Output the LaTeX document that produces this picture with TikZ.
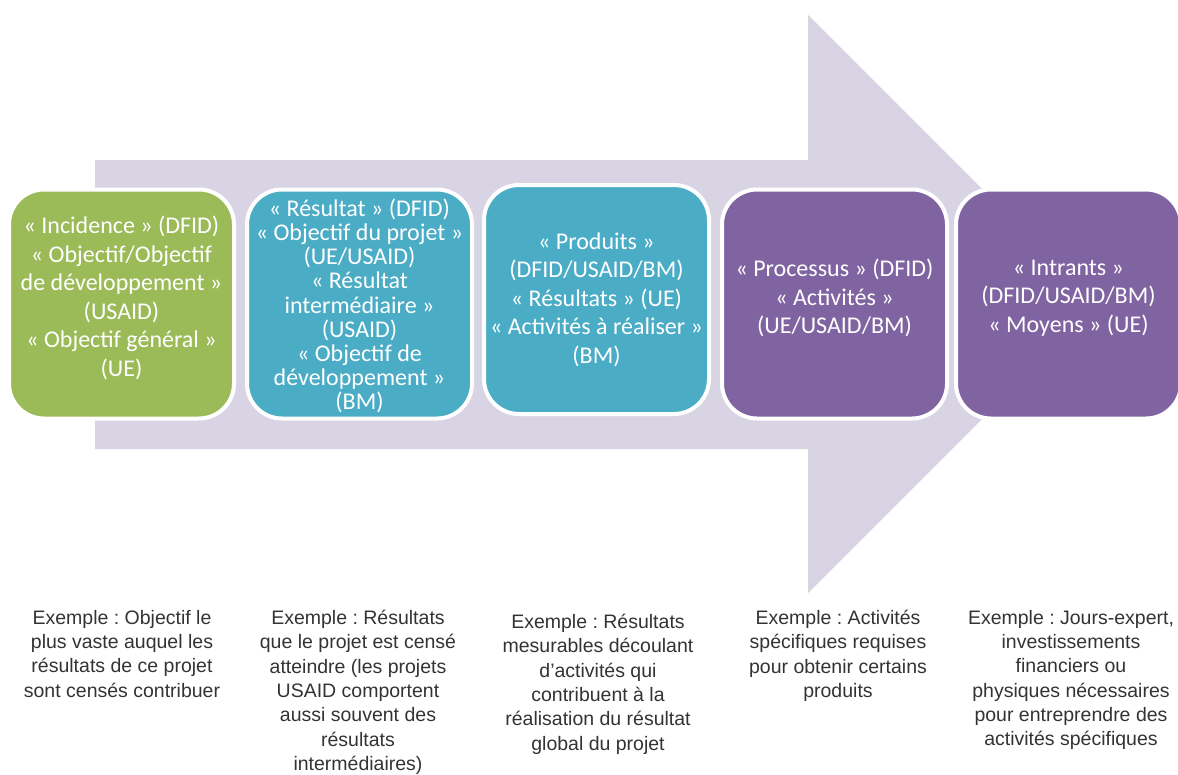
\documentclass[tikz,border=0pt]{standalone}
\usepackage{fontspec}
\setmainfont{Carlito}
\newfontfamily\notefont{Liberation Sans}
\usepackage{tikz}
\usetikzlibrary{positioning}
\frenchspacing

\definecolor{arrowlilac}{HTML}{D9D4E3}
\definecolor{leafgreen}{HTML}{9BBB59}
\definecolor{seablue}{HTML}{4BACC6}
\definecolor{plum}{HTML}{8064A2}
\definecolor{notegray}{HTML}{333333}

\begin{document}
\begin{tikzpicture}[x=1pt,y=-1pt,
  stage/.style={draw=white,line width=4pt,rounded corners=35pt,minimum width=225pt,minimum height=229pt,inner sep=0pt},
  stagetext/.style={text=white,align=center,inner sep=0pt,font=\fontsize{24}{28.5}\selectfont},
  note/.style={anchor=north,align=center,inner sep=0pt,text=notegray,font=\notefont\fontsize{19.5}{24.3}\selectfont}]
\useasboundingbox (0,0) rectangle (1178,774);

% big arrow behind the stages
\fill[arrowlilac] (95,160) -- (808,160) -- (808,15) -- (1097,304) -- (808,593) -- (808,449) -- (95,449) -- cycle;

% the five stages
\node[stage,fill=leafgreen] (impact) at (121.5,304) {};
\node[stage,fill=seablue] (outcome) at (359.5,304) {};
\node[stage,fill=seablue] (output) at (596.5,299.5) {};
\node[stage,fill=plum] (activity) at (834.5,304) {};
\node[stage,fill=plum] (input) at (1068.5,304) {};

\node[stagetext] (impacttxt) at ([yshift=6pt]impact.center) {« Incidence » (DFID)\\ « Objectif/Objectif\\ de développement »\\ (USAID)\\ « Objectif général »\\ (UE)};
\node[stagetext,font=\fontsize{24}{24.2}\selectfont] (outcometxt) at ([yshift=-2pt]outcome.center) {« Résultat » (DFID)\\ « Objectif du projet »\\ (UE/USAID)\\ « Résultat\\ intermédiaire »\\ (USAID)\\ « Objectif de\\ développement »\\ (BM)};
\node[stagetext] (outputtxt) at (output.center) {« Produits »\\ (DFID/USAID/BM)\\ « Résultats » (UE)\\ « Activités à réaliser »\\ (BM)};
\node[stagetext] (activitytxt) at ([yshift=6pt]activity.center) {« Processus » (DFID)\\ « Activités »\\ (UE/USAID/BM)};
\node[stagetext] (inputtxt) at ([yshift=6pt]input.center) {« Intrants »\\ (DFID/USAID/BM)\\ « Moyens » (UE)};

% examples under each stage
\node[note] (impactnote) at (122,610) {Exemple : Objectif le\\ plus vaste auquel les\\ résultats de ce projet\\ sont censés contribuer};
\node[note] (outcomenote) at (358,610) {Exemple : Résultats\\ que le projet est censé\\ atteindre (les projets\\ USAID comportent\\ aussi souvent des\\ résultats\\ intermédiaires)};
\node[note] (outputnote) at (598,614) {Exemple : Résultats\\ mesurables découlant\\ d’activités qui\\ contribuent à la\\ réalisation du résultat\\ global du projet};
\node[note] (activitynote) at (838,610) {Exemple : Activités\\ spécifiques requises\\ pour obtenir certains\\ produits};
\node[note] (inputnote) at (1071,610) {Exemple : Jours-expert,\\ investissements\\ financiers ou\\ physiques nécessaires\\ pour entreprendre des\\ activités spécifiques};
\end{tikzpicture}
\end{document}
